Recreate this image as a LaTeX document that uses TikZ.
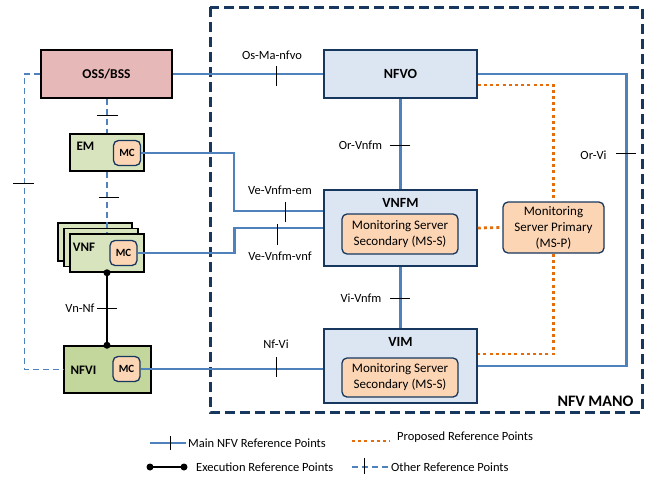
\documentclass[tikz,border=0pt]{standalone}
\usepackage{fontspec}
\setmainfont{Carlito}
\definecolor{refblue}{RGB}{79,129,189}
\definecolor{navy}{RGB}{23,55,94}
\definecolor{manofill}{RGB}{220,230,242}
\definecolor{ossfill}{RGB}{230,185,184}
\definecolor{emfill}{RGB}{215,228,189}
\definecolor{nfvifill}{RGB}{195,214,155}
\definecolor{peach}{RGB}{252,213,181}
\definecolor{orng}{RGB}{228,108,10}
\begin{document}
\begin{tikzpicture}[x=1pt,y=-1pt,line cap=butt,line join=miter,
	every node/.style={font=\fontsize{12.5}{15}\selectfont,inner sep=0pt},
	blk/.style={draw=black,line width=1.5pt},
	mano/.style={draw=navy,line width=1.5pt,fill=manofill,minimum width=153pt},
	msbox/.style={draw=navy,line width=1.3pt,fill=peach,rounded corners=5pt,align=center,font=\fontsize{13}{16}\selectfont},
	mcbox/.style={msbox,font=\fontsize{11}{13}\selectfont\bfseries,minimum width=27pt,minimum height=25pt},
	title/.style={font=\fontsize{14}{16}\selectfont\bfseries},
	mainref/.style={draw=refblue,line width=2.6pt},
	propref/.style={draw=orng,line width=2.8pt,dash pattern=on 3pt off 3.2pt},
	execref/.style={draw=black,line width=2pt},
	otherref/.style={draw=refblue,line width=1.3pt,dash pattern=on 6pt off 4pt},
	tickmark/.style={draw=black,line width=0.8pt}]
	\useasboundingbox (0,0) rectangle (659,477);
	
	\draw[navy,line width=3pt,dash pattern=on 10pt off 5pt] (210,7) rectangle (642,412);
	\node[font=\fontsize{16}{18}\selectfont\bfseries] (manot) at (595.5,401) {NFV MANO};
	
	\node[blk,fill=ossfill,minimum width=131pt,minimum height=48pt,font=\fontsize{13.5}{16}\selectfont\bfseries] (oss) at (106.5,74) {OSS/BSS};
	\node[mano,minimum height=48pt,title] (nfvo) at (400.5,74) {NFVO};
	\node[mano,minimum height=76pt] (vnfm) at (400.5,228) {};
	\node[title] (vnfmt) at (400.5,203) {VNFM};
	\node[msbox,minimum width=116pt,minimum height=40pt] (mssa) at (400,234) {Monitoring Server\\Secondary (MS-S)};
	\node[mano,minimum height=74pt] (vim) at (400.5,366) {};
	\node[title] (vimt) at (400.5,342) {VIM};
	\node[msbox,minimum width=116pt,minimum height=39pt] (mssb) at (400,377.5) {Monitoring Server\\Secondary (MS-S)};
	\node[msbox,minimum width=101pt,minimum height=51pt] (msp) at (553.5,227.5) {Monitoring\\Server Primary\\(MS-P)};
	
	\node[blk,fill=emfill,minimum width=74pt,minimum height=37pt] (em) at (107,152.5) {};
	\node[title,font=\fontsize{13}{15}\selectfont\bfseries] (emt) at (85.5,146) {EM};
	\node[mcbox] (emmc) at (127,153) {MC};
	\foreach \dx/\dy/\n in {-12/-11/vnfc,-6/-5.5/vnfb,0/0/vnf}{
		\node[blk,fill=emfill,minimum width=74pt,minimum height=38pt] (\n) at ({107+\dx},{253+\dy}) {};
	}
	\node[font=\fontsize{13}{15}\selectfont\bfseries] (vnft) at (84,247) {VNF};
	\node[mcbox] (vnfmc) at (123.5,253) {MC};
	\node[blk,fill=nfvifill,minimum width=87pt,minimum height=47pt] (nfvi) at (107.5,369.5) {};
	\node[font=\fontsize{13}{15}\selectfont\bfseries] (nfvit) at (83.5,370) {NFVI};
	\node[mcbox] (nfvimc) at (126.5,369) {MC};
	
	\draw[mainref] (oss.east) -- (nfvo.west);
	\draw[mainref] (nfvo.east) -- ++(149,0) |- (vim.east);
	\draw[mainref] (nfvo.south) -- (vnfm.north);
	\draw[mainref] (vnfm.south) -- (vim.north);
	\draw[mainref] (emmc.east) -- ++(93,0) |- ([yshift=17pt]vnfm.west);
	\draw[mainref] (vnfmc.east) -- ++(97,0) |- (vnfm.west);
	\draw[mainref] (nfvimc.east) -- (nfvimc.east -| vim.west);
	\draw[propref] ([yshift=-11pt]nfvo.east) -| (msp.north);
	\draw[propref] (msp.south) |- ([yshift=12pt]vim.east);
	\draw[propref] (vnfm.east) -- (msp.west);
	\draw[otherref] (oss.south -| em.north) -- (em.north);
	\draw[otherref] (em.south) -- (vnf.north);
	\draw[otherref] (oss.west) -- ++(-16,0) |- (nfvi.west);
	\draw[execref] (vnf.south) -- (vnf.south |- nfvi.north);
	\fill (vnf.south) circle (3.5pt) (vnf.south |- nfvi.north) circle (3.5pt);
	
	\node (osma) at (272,55) {Os-Ma-nfvo};
	\node (orvnfm) at (360.5,145) {Or-Vnfm};
	\node (orvi) at (593.5,155) {Or-Vi};
	\node (vivnfm) at (361,298) {Vi-Vnfm};
	\node (vevem) at (280,190) {Ve-Vnfm-em};
	\node (vevnf) at (280,256) {Ve-Vnfm-vnf};
	\node (nfvil) at (276,344) {Nf-Vi};
	\node (vnnf) at (80,308) {Vn-Nf};
	
	\foreach \x/\ya/\yb in {276/66/86,285/202/222,277/224/245,276/357/377}{
		\draw[tickmark] (\x,\ya) -- (\x,\yb);
	}
	\foreach \y/\xa/\xb in {145/390/410,298/390/410,153/616/636,115/97/118,197/99/119,183/13/34,308/97/117}{
		\draw[tickmark] (\xa,\y) -- (\xb,\y);
	}
	
	\node[anchor=west] (lgmain) at (188,443) {Main NFV Reference Points};
	\draw[mainref] ([xshift=-38pt]lgmain.west) -- ([xshift=-2pt]lgmain.west);
	\draw[tickmark] ([xshift=-18pt,yshift=7pt]lgmain.west) -- ++(0,14);
	\node[anchor=west] (lgprop) at (397,437) {Proposed Reference Points};
	\draw[propref] ([xshift=-45pt,yshift=-4pt]lgprop.west) -- ([xshift=-7pt,yshift=-4pt]lgprop.west);
	\node[anchor=west] (lgexec) at (196,467) {Execution Reference Points};
	\draw[execref] ([xshift=-46pt]lgexec.west) -- ([xshift=-12pt]lgexec.west);
	\fill ([xshift=-46pt]lgexec.west) circle (3.5pt) ([xshift=-12pt]lgexec.west) circle (3.5pt);
	\node[anchor=west] (lgother) at (391,467) {Other Reference Points};
	\draw[otherref] ([xshift=-39pt]lgother.west) -- ([xshift=-3pt]lgother.west);
	\draw[tickmark] ([xshift=-27pt,yshift=9pt]lgother.west) -- ++(0,16);
\end{tikzpicture}
\end{document}
